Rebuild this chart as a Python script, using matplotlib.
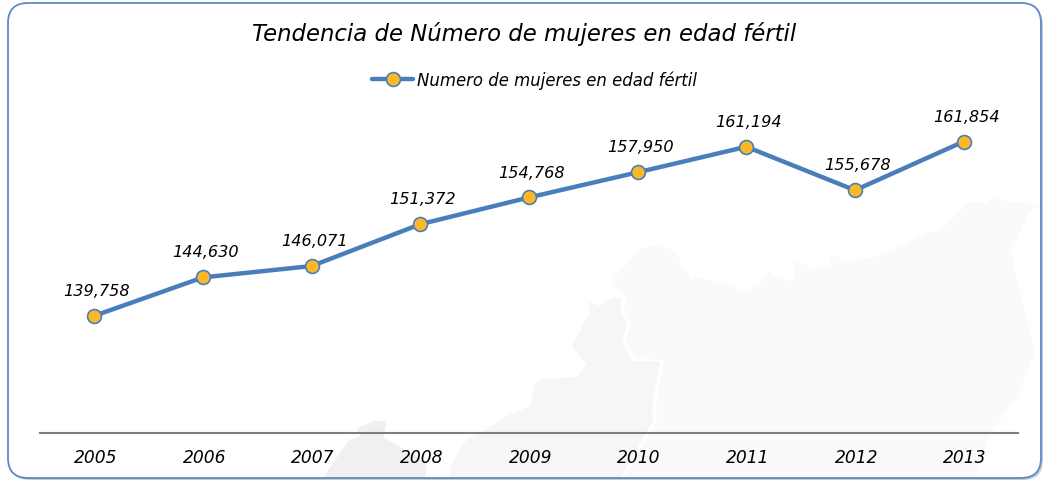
# Tendencia de mujeres en edad fertil
from matplotlib import pyplot as plt
from matplotlib.patches import FancyBboxPatch, Polygon
from matplotlib.transforms import ScaledTranslation

anios = ['2005', '2006', '2007', '2008', '2009', '2010', '2011', '2012', '2013']
mujeres = [139758, 144630, 146071, 151372, 154768, 157950, 161194, 155678, 161854]
serie = 'Numero de mujeres en edad fértil'
titulo = 'Tendencia de Número de mujeres en edad fértil'

W, H = 1043, 481

# Silueta de fondo (pixeles de la imagen), tres zonas
zona_oscura = [(323, 479), (348, 442), (360, 437), (357, 430), (372, 422), (387, 422),
               (383, 438), (427, 463), (425, 479)]
zona_media = [(450, 480), (450, 467), (467, 440), (483, 432), (507, 417), (530, 407), (535, 385),
              (543, 380), (577, 378), (587, 366), (572, 348), (590, 313), (588, 303), (600, 307),
              (613, 298), (622, 300), (620, 313), (627, 325), (622, 343), (633, 362), (660, 363),
              (652, 407), (653, 422), (620, 480)]
zona_clara = [(613, 280), (640, 250), (663, 245), (677, 257), (692, 282), (695, 278), (730, 285),
              (742, 292), (758, 287), (770, 270), (773, 278), (790, 282), (795, 278), (793, 265),
              (800, 262), (812, 270), (830, 267), (830, 255), (847, 263), (873, 258), (900, 248),
              (927, 233), (940, 232), (957, 215), (970, 203), (987, 204), (992, 197), (1010, 203),
              (1043, 205), (1030, 212), (1011, 253), (1035, 353), (1017, 397), (987, 440),
              (975, 480), (624, 480), (657, 422), (656, 407), (664, 361), (635, 359), (626, 343),
              (631, 325), (624, 313), (626, 298), (618, 292)]

fig = plt.figure(figsize=(W / 100, H / 100), dpi=100)
bg = fig.add_axes([0, 0, 1, 1])
bg.set_xlim(0, W)
bg.set_ylim(H, 0)
bg.axis('off')

# Sombra y marco redondeado
bg.add_patch(FancyBboxPatch((10, 7), 1033, 474, boxstyle='round,pad=0,rounding_size=20',
                            fc='#b5b5b5', ec='none', alpha=0.7))
fondo = FancyBboxPatch((8, 4), 1033, 475, boxstyle='round,pad=0,rounding_size=20',
                       fc='white', ec='none', zorder=1)
bg.add_patch(fondo)
for zona, color in [(zona_oscura, '#f0f0f0'), (zona_media, '#f6f6f6'), (zona_clara, '#fafafa')]:
    p = Polygon(zona, closed=True, fc=color, ec='none', zorder=2)
    bg.add_patch(p)
    p.set_clip_path(fondo)
bg.add_patch(FancyBboxPatch((8, 4), 1033, 475, boxstyle='round,pad=0,rounding_size=20',
                            fc='none', ec='#5b8ac9', lw=1.3, zorder=3))

ax = fig.add_axes([40 / W, 1 - 434 / H, (1018 - 40) / W, (434 - 105.5) / H])
ax.patch.set_alpha(0)
x = list(range(len(anios)))
ax.plot(x, mujeres, color='#4a7ebb', lw=3.2, marker='o', markersize=10,
        markerfacecolor='#fdb827', markeredgecolor='#4a7ebb', markeredgewidth=1.2,
        label=serie, solid_capstyle='round')
ax.set_xlim(-0.5, 8.5)
ax.set_ylim(124900, 166550)

for xi, yi in zip(x, mujeres):
    ax.annotate(f'{yi:,}', (xi, yi), xytext=(1.8, 18.3), textcoords='offset points',
                ha='center', va='center', style='italic', fontsize=11.6, color='black')

ax.set_xticks(x, anios, style='italic', fontsize=12.3, color='black')
ax.set_yticks([])
ax.tick_params(axis='x', length=0, pad=10.6)
desplaza = ScaledTranslation(1.5 / 100, 0, fig.dpi_scale_trans)
for et in ax.get_xticklabels():
    et.set_transform(et.get_transform() + desplaza)
for lado in ['top', 'left', 'right']:
    ax.spines[lado].set_visible(False)
ax.spines['bottom'].set_color('#7f7f7f')
ax.spines['bottom'].set_linewidth(1.5)

fig.text(524.5 / W, 1 - 34 / H, titulo, ha='center', va='center', style='italic',
         fontsize=16.4, color='black')

leg = ax.legend(loc='center', bbox_to_anchor=(0.5056, (434 - 81) / (434 - 105.5)), frameon=False,
                prop={'style': 'italic', 'size': 11.9}, handlelength=2.5, handletextpad=0.2)

fig.savefig('out.png', dpi=100)
